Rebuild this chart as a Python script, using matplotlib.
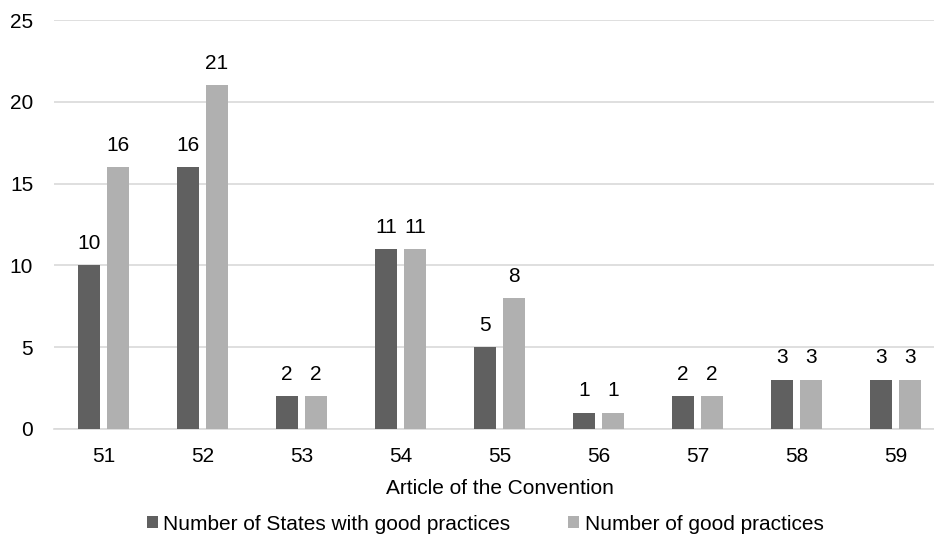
import numpy as np
import matplotlib.pyplot as plt

plt.rcParams['font.family'] = ['Liberation Sans', 'DejaVu Sans']

articles = ['51', '52', '53', '54', '55', '56', '57', '58', '59']
states = [10, 16, 2, 11, 5, 1, 2, 3, 3]
practices = [16, 21, 2, 11, 8, 1, 2, 3, 3]

dark = '#606060'
light = '#b0b0b0'
fs = 15

fig = plt.figure(figsize=(9.34, 5.38), dpi=100)
# plot area runs a little past the right edge of the figure
ax = fig.add_axes([54 / 934, 109 / 538, 891 / 934, 409 / 538])

x = np.arange(len(articles))
w = 0.22
off = 0.145
b1 = ax.bar(x - off, states, w, color=dark, label='Number of States with good practices', zorder=3)
b2 = ax.bar(x + off, practices, w, color=light, label='Number of good practices', zorder=3)

for bars, vals in ((b1, states), (b2, practices)):
    for r, v in zip(bars, vals):
        ax.annotate(str(v), (r.get_x() + r.get_width() / 2, v), xytext=(0, 9),
                    textcoords='offset points', ha='center', va='bottom',
                    fontsize=fs, color='#000000')

ax.set_xlim(-0.5, len(articles) - 0.5)
ax.set_ylim(0, 25)
ax.set_yticks(range(0, 26, 5))
ax.set_xticks(x)
ax.set_xticklabels(articles)
ax.tick_params(axis='both', length=0, labelsize=fs, colors='#000000')
ax.tick_params(axis='y', pad=15)
ax.tick_params(axis='x', pad=13)
ax.yaxis.grid(True, color='#d9d9d9', linewidth=1.2, zorder=0)
for s in ['top', 'right', 'left']:
    ax.spines[s].set_visible(False)
ax.spines['bottom'].set_color('#d9d9d9')
ax.spines['bottom'].set_linewidth(1.2)

ax.set_xlabel('Article of the Convention', fontsize=fs, labelpad=9)

fig.legend(loc='center', bbox_to_anchor=(485 / 934, 1 - 524 / 538), ncol=2, frameon=False,
           fontsize=fs, handlelength=0.53, handleheight=0.53, handletextpad=0.25, columnspacing=2.8)

fig.savefig('out.png', dpi=100)
